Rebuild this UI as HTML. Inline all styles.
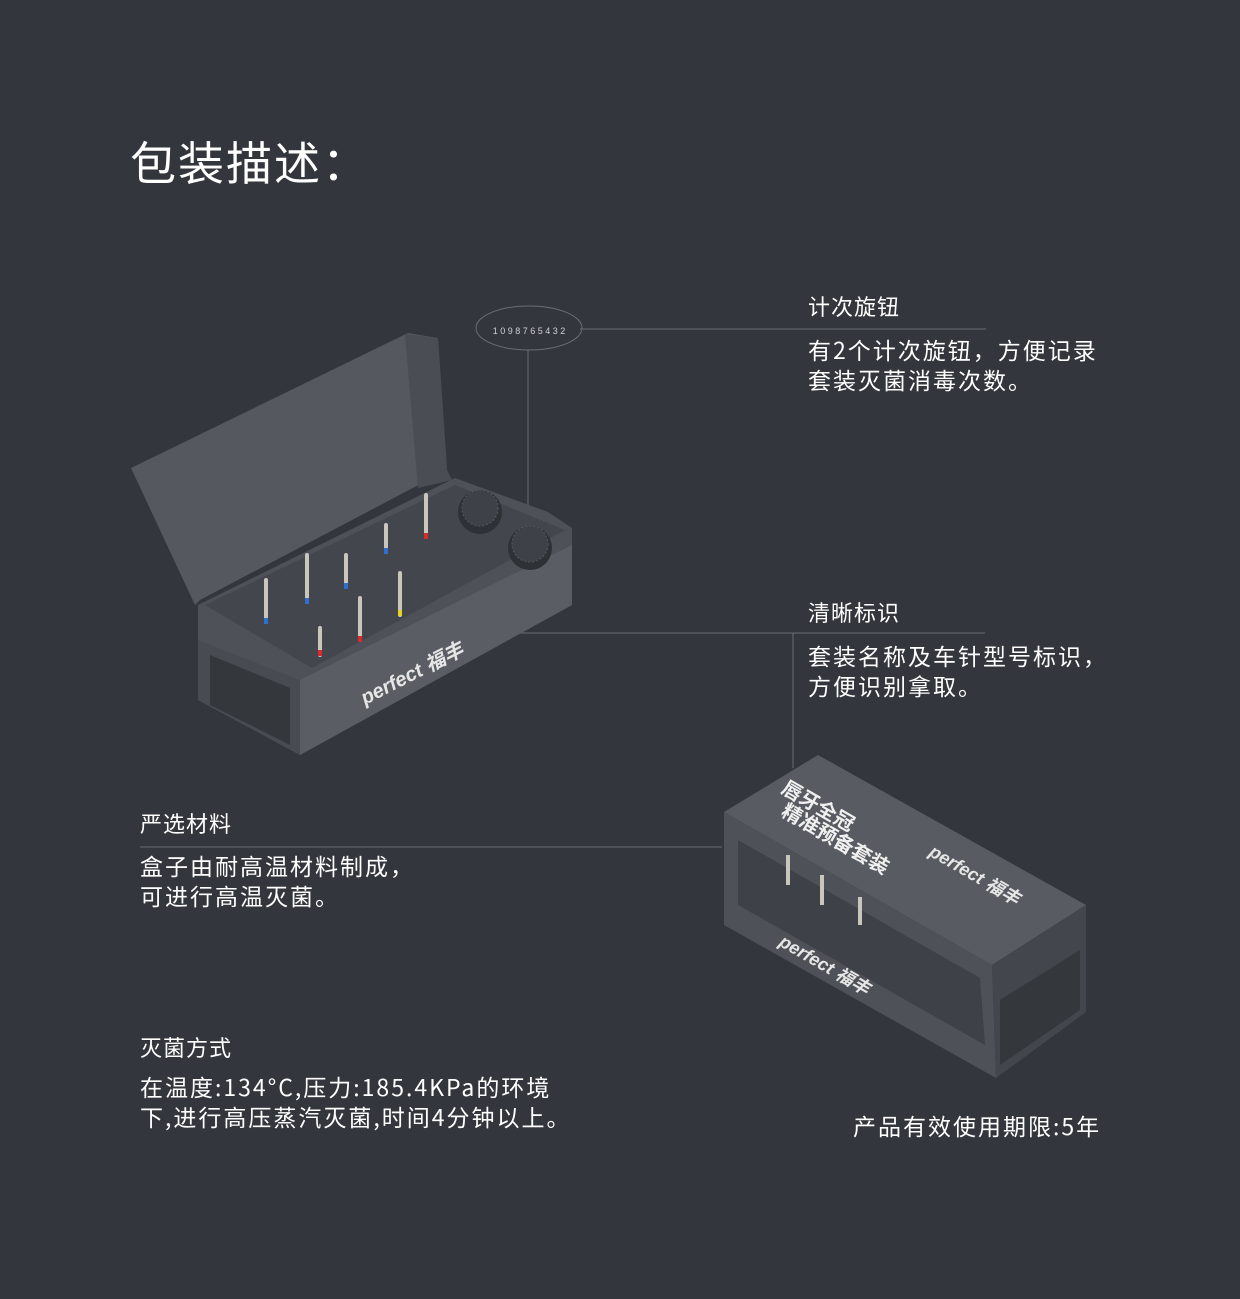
<!DOCTYPE html>
<html><head><meta charset="utf-8">
<style>
html,body{margin:0;padding:0;}
body{width:1240px;height:1299px;background:#33363d;position:relative;overflow:hidden;font-family:"Noto Sans CJK SC","Liberation Sans",sans-serif;color:#fff;}
.t{position:absolute;white-space:nowrap;}
.h{font-size:22px;letter-spacing:1px;}
.p{font-size:23px;line-height:30px;letter-spacing:2px;}
svg{position:absolute;left:0;top:0;}
</style></head><body>
<svg width="1240" height="1299" viewBox="0 0 1240 1299">
  <g stroke="#6a6d74" stroke-width="1" fill="none">
    <line x1="580" y1="329" x2="986" y2="329"/>
    <line x1="528" y1="350" x2="528" y2="505"/>
    <line x1="520" y1="633" x2="985" y2="633"/>
    <line x1="793" y1="633" x2="793" y2="768"/>
    <line x1="140" y1="847" x2="722" y2="847"/>
  </g>
  <ellipse cx="529" cy="328" rx="53" ry="22" fill="none" stroke="#6a6d74"/>
  <text x="529" y="334" fill="#cfd1d5" font-size="9" text-anchor="middle" font-family="Liberation Sans">1 0 9 8 7 6 5 4 3 2</text>

  <polygon points="131,468 408,333 438,338 447,470 200,600 195,605" fill="#55585e"/>
  <polygon points="405,334 438,338 447,470 452,480 418,488" fill="#4a4d53"/>
  <polygon points="198,605 455,478 548,512 572,528 572,605 300,755 198,700" fill="#4e5157"/>
  <polygon points="205,605 455,485 565,530 312,668" fill="#43464c"/>
  <polygon points="300,680 572,545 572,605 300,755" fill="#5a5d63"/>
  <polygon points="198,640 300,680 300,755 198,700" fill="#484b51"/>
  <polygon points="210,655 290,688 290,745 210,705" fill="#34373c"/>
  <circle cx="480" cy="512" r="22" fill="#2e3136"/><circle cx="480" cy="508" r="18" fill="#3e4147" stroke="#55585e" stroke-dasharray="2 2"/>
  <circle cx="530" cy="548" r="22" fill="#2e3136"/><circle cx="530" cy="544" r="18" fill="#3e4147" stroke="#55585e" stroke-dasharray="2 2"/>
  <g stroke="#c9c6bd" stroke-width="4" stroke-linecap="round">
    <line x1="266" y1="580" x2="266" y2="620"/><line x1="307" y1="555" x2="307" y2="600"/>
    <line x1="346" y1="555" x2="346" y2="585"/><line x1="386" y1="525" x2="386" y2="550"/>
    <line x1="426" y1="495" x2="426" y2="535"/><line x1="320" y1="628" x2="320" y2="655"/>
    <line x1="360" y1="598" x2="360" y2="640"/><line x1="400" y1="573" x2="400" y2="615"/>
  </g>
  <g stroke-width="4"><line x1="266" y1="618" x2="266" y2="624" stroke="#2f6fd0"/><line x1="307" y1="598" x2="307" y2="604" stroke="#2f6fd0"/><line x1="346" y1="583" x2="346" y2="589" stroke="#2f6fd0"/><line x1="386" y1="548" x2="386" y2="554" stroke="#2f6fd0"/><line x1="426" y1="533" x2="426" y2="539" stroke="#d92b2b"/><line x1="320" y1="650" x2="320" y2="656" stroke="#d92b2b"/><line x1="360" y1="636" x2="360" y2="642" stroke="#d92b2b"/><line x1="400" y1="610" x2="400" y2="616" stroke="#e8d21e"/></g>
  <text x="365" y="705" fill="#e6e6e6" font-size="20" font-style="italic" font-weight="bold" font-family="Liberation Sans, Noto Sans CJK SC" transform="rotate(-27 365 705)">perfect 福丰</text>

  <polygon points="724,812 818,755 1086,905 992,965" fill="#585b61"/>
  <polygon points="724,812 992,965 996,1078 724,925" fill="#4e5157"/>
  <polygon points="992,965 1086,905 1086,1012 996,1078" fill="#43464c"/>
  <polygon points="738,840 980,978 985,1045 738,905" fill="#3e4147"/>
  <polygon points="1000,1000 1080,950 1080,1010 1000,1065" fill="#34373c"/>
  <g stroke="#c9c6bd" stroke-width="4"><line x1="788" y1="855" x2="788" y2="885"/><line x1="822" y1="875" x2="822" y2="905"/><line x1="860" y1="897" x2="860" y2="925"/></g>
  <text x="780" y="792" fill="#f0f0f0" font-size="20" font-weight="bold" transform="rotate(30 780 792)">唇牙全冠</text>
  <text x="780" y="815" fill="#f0f0f0" font-size="20" font-weight="bold" transform="rotate(30 780 815)">精准预备套装</text>
  <text x="928" y="855" fill="#e6e6e6" font-size="18" font-style="italic" font-weight="bold" font-family="Liberation Sans, Noto Sans CJK SC" transform="rotate(30 928 855)">perfect 福丰</text>
  <text x="778" y="945" fill="#e6e6e6" font-size="18" font-style="italic" font-weight="bold" font-family="Liberation Sans, Noto Sans CJK SC" transform="rotate(30 778 945)">perfect 福丰</text>
</svg>

<div class="t" style="left:130px;top:128px;font-size:46px;letter-spacing:2px;">包装描述：</div>

<div class="t h" style="left:808px;top:290px;">计次旋钮</div>
<div class="t p" style="left:808px;top:334px;">有2个计次旋钮，方便记录<br>套装灭菌消毒次数。</div>

<div class="t h" style="left:808px;top:596px;">清晰标识</div>
<div class="t p" style="left:808px;top:640px;">套装名称及车针型号标识，<br>方便识别拿取。</div>

<div class="t h" style="left:140px;top:807px;">严选材料</div>
<div class="t p" style="left:140px;top:850px;">盒子由耐高温材料制成，<br>可进行高温灭菌。</div>

<div class="t h" style="left:140px;top:1031px;">灭菌方式</div>
<div class="t p" style="left:140px;top:1071px;">在温度:134°C,压力:185.4KPa的环境<br>下,进行高压蒸汽灭菌,时间4分钟以上。</div>

<div class="t p" style="left:853px;top:1110px;">产品有效使用期限:5年</div>
</body></html>
